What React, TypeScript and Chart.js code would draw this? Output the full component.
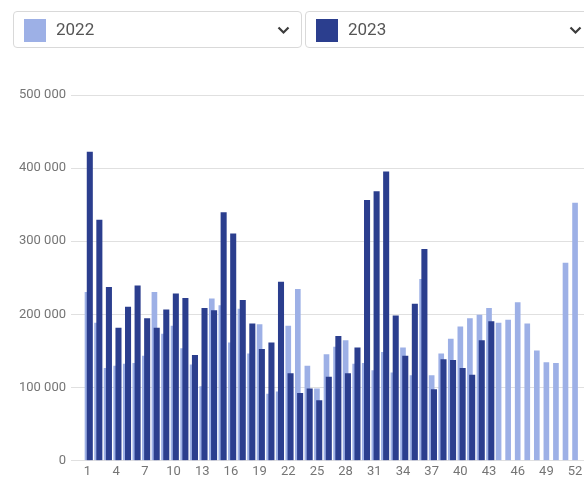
import React, { useEffect, useRef } from "react";
import { Chart, registerables } from "chart.js";

Chart.register(...registerables);

// ---- data ----
const weeks = [
  1, 2, 3, 4, 5, 6, 7, 8, 9, 10, 11, 12, 13, 14, 15, 16, 17, 18, 19, 20, 21, 22, 23, 24, 25, 26,
  27, 28, 29, 30, 31, 32, 33, 34, 35, 36, 37, 38, 39, 40, 41, 42, 43, 44, 45, 46, 47, 48, 49, 50, 51, 52,
];

const values2022 = [
  230000, 188000, 126000, 129000, 132000, 133000, 143000, 230000, 173000, 184000, 153000, 131000, 101000,
  221000, 212000, 161000, 207000, 146000, 186000, 91000, 94000, 184000, 234000, 129000, 98000, 145000,
  155000, 164000, 132000, 133000, 123000, 148000, 120000, 154000, 116000, 248000, 116000, 146000, 166000,
  183000, 194000, 199000, 208000, 188000, 192000, 216000, 187000, 150000, 134000, 133000, 270000, 352000,
];

const values2023 = [
  422000, 329000, 237000, 181000, 210000, 239000, 194000, 181000, 206000, 228000, 222000, 144000, 208000,
  205000, 339000, 310000, 219000, 187000, 152000, 161000, 244000, 119000, 92000, 98000, 82000, 114000,
  170000, 119000, 154000, 356000, 368000, 395000, 198000, 143000, 214000, 289000, 97000, 138000, 137000,
  126000, 117000, 164000, 190000,
];

const xTickLabels = [1, 4, 7, 10, 13, 16, 19, 22, 25, 28, 31, 34, 37, 40, 43, 46, 49, 52];
const yTickValues = [0, 100000, 200000, 300000, 400000, 500000];

const seriesNames = ["2022", "2023"];
const seriesColors = ["#9db0e6", "#2b3e8e"];

// ---- layout constants ----
const CANVAS_W = 620;
const CANVAS_H = 478;
const AREA_LEFT = 79;
const AREA_RIGHT = 615;
const AREA_BOTTOM = 460.5;
const FIRST_TICK_PX = 87.5;
const WEEK_PX = 9.56;
const DARK_SHIFT = 2.3 / WEEK_PX;
const X_MIN = weeks[0] - (FIRST_TICK_PX - AREA_LEFT) / WEEK_PX;
const X_MAX = X_MIN + (AREA_RIGHT - AREA_LEFT) / WEEK_PX;

const fmt = (v: number) => String(v).replace(/\B(?=(\d{3})+(?!\d))/g, " ");

function Chevron() {
  return (
    <svg width="13" height="9" viewBox="0 0 13 9" style={{ display: "block" }}>
      <polyline points="1.5,1.5 6.5,6.5 11.5,1.5" fill="none" stroke="#3c3c3c" strokeWidth="2.2" />
    </svg>
  );
}

function Select({ left, label, color }: { left: number; label: string; color: string }) {
  return (
    <div
      style={{
        position: "absolute",
        left,
        top: 11,
        width: 287,
        height: 35,
        border: "1px solid #d9d9d9",
        borderRadius: 4,
        boxSizing: "content-box",
        background: "#fff",
      }}
    >
      <div
        style={{ position: "absolute", left: 10, top: 7, width: 22, height: 23, background: color }}
      />
      <div
        style={{
          position: "absolute",
          left: 42,
          top: 0,
          height: 35,
          lineHeight: "35px",
          fontFamily: "Roboto, sans-serif",
          fontSize: 17,
          color: "#555",
        }}
      >
        {label}
      </div>
      <div style={{ position: "absolute", left: 263, top: 14 }}>
        <Chevron />
      </div>
    </div>
  );
}

export default function App() {
  const ref = useRef<HTMLCanvasElement | null>(null);

  useEffect(() => {
    if (!ref.current) return;
    const chart = new Chart(ref.current, {
      type: "bar",
      data: {
        datasets: [
          {
            label: seriesNames[0],
            data: weeks.map((w, i) => ({ x: w, y: values2022[i] })),
            backgroundColor: seriesColors[0],
            barThickness: 5,
            grouped: false,
            order: 2,
          } as any,
          {
            label: seriesNames[1],
            data: values2023.map((v, i) => ({ x: weeks[i] + DARK_SHIFT, y: v })),
            backgroundColor: seriesColors[1],
            barThickness: 5.4,
            grouped: false,
            order: 1,
          } as any,
        ],
      },
      options: {
        responsive: false,
        animation: false,
        events: [],
        layout: { padding: { left: 0, right: CANVAS_W - AREA_RIGHT, top: 95, bottom: 0 } },
        plugins: { legend: { display: false }, tooltip: { enabled: false } },
        scales: {
          x: {
            type: "linear",
            offset: false,
            min: X_MIN,
            max: X_MAX,
            grid: { display: false, drawTicks: false },
            border: { display: false },
            afterBuildTicks: (scale: any) => {
              scale.ticks = xTickLabels.map((v) => ({ value: v }));
            },
            afterFit: (scale: any) => {
              scale.height = CANVAS_H - AREA_BOTTOM;
            },
            ticks: {
              autoSkip: false,
              maxRotation: 0,
              padding: 5,
              color: "#757575",
              font: { family: "Roboto", size: 13, lineHeight: 1 },
              callback: (v: any) => String(v),
            },
          },
          y: {
            type: "linear",
            min: 0,
            max: 500000,
            afterBuildTicks: (scale: any) => {
              scale.ticks = yTickValues.map((v) => ({ value: v }));
            },
            afterFit: (scale: any) => {
              scale.width = AREA_LEFT;
            },
            grid: { color: "#e0e0e0", tickLength: 8, lineWidth: 1 },
            border: { display: false },
            ticks: {
              padding: 5,
              color: "#757575",
              font: { family: "Roboto", size: 13 },
              callback: (v: any) => fmt(Number(v)),
            },
          },
        },
      } as any,
    });
    return () => chart.destroy();
  }, []);

  return (
    <div
      style={{
        position: "absolute",
        left: 0,
        top: 0,
        width: 584,
        height: 478,
        overflow: "hidden",
        background: "#fff",
      }}
    >
      <canvas
        ref={ref}
        width={CANVAS_W}
        height={CANVAS_H}
        style={{ position: "absolute", left: 0, top: 0, width: CANVAS_W, height: CANVAS_H }}
      />
      <Select left={13} label={seriesNames[0]} color={seriesColors[0]} />
      <Select left={305} label={seriesNames[1]} color={seriesColors[1]} />
    </div>
  );
}
